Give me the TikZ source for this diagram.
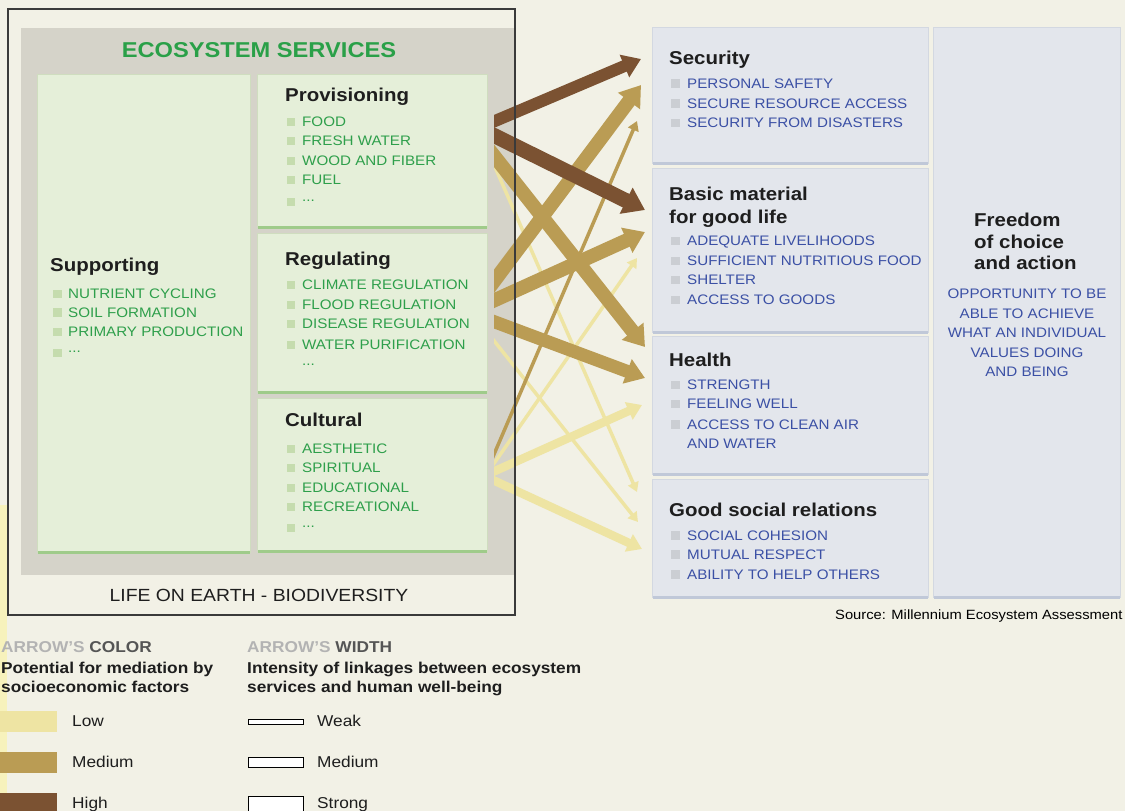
\documentclass[tikz,border=0pt]{standalone}
\usepackage{fontspec}
\setmainfont[FakeStretch=1.1]{Liberation Sans}
\usetikzlibrary{arrows.meta}
\definecolor{bg}{HTML}{F2F1E6}
\definecolor{panel}{HTML}{D5D3C9}
\definecolor{greenbox}{HTML}{E5EFD9}
\definecolor{greenedge}{HTML}{CFDDBF}
\definecolor{greenbar}{HTML}{9FCB8A}
\definecolor{bulgreen}{HTML}{C5DCAE}
\definecolor{itemgreen}{HTML}{2E9F4B}
\definecolor{ecogreen}{HTML}{2AA048}
\definecolor{titleblack}{HTML}{1E1E1E}
\definecolor{bluebox}{HTML}{E3E6EC}
\definecolor{blueedge}{HTML}{D3D8E1}
\definecolor{bluebar}{HTML}{C0C8D8}
\definecolor{bulgray}{HTML}{CBCED3}
\definecolor{itemblue}{HTML}{3B50A5}
\definecolor{lowc}{HTML}{EEE4A3}
\definecolor{medc}{HTML}{BA9C54}
\definecolor{highc}{HTML}{7B5232}
\definecolor{framec}{HTML}{3A3A3A}
\definecolor{lgray}{HTML}{B3B3B3}
\definecolor{dgray}{HTML}{555555}
\definecolor{stripc}{HTML}{F7F2BC}
\begin{document}
\begin{tikzpicture}[x=1pt,y=-1pt,
  ttl/.style={anchor=west,inner sep=0pt,text depth=0pt,font=\bfseries\fontsize{18.6}{21}\selectfont,text=titleblack},
  itm/.style={anchor=west,inner sep=0pt,text depth=0pt,font=\fontsize{13.8}{16}\selectfont,text=itemgreen},
  bitm/.style={itm,text=itemblue},
  gbul/.style={fill=bulgreen,inner sep=0pt,minimum size=8.5pt},
  bbul/.style={fill=bulgray,inner sep=0pt,minimum size=8.5pt},
  gbox/.style={fill=greenbox,draw=greenedge,line width=0.8pt,anchor=north west,inner sep=0pt},
  gbar/.style={draw=greenbar,line width=3pt},
  bbox/.style={fill=bluebox,draw=blueedge,line width=0.8pt,anchor=north west,inner sep=0pt},
  bbar/.style={draw=bluebar,line width=3pt},
  arr/.style={-{Triangle[length=6pt 1,width=6pt 1.45]},shorten <=-16pt},
  lgb/.style={anchor=west,inner sep=0pt,text depth=0pt,font=\bfseries\fontsize{15.7}{18}\selectfont,text=titleblack},
  lgr/.style={anchor=west,inner sep=0pt,text depth=0pt,font=\fontsize{15.7}{18}\selectfont,text=titleblack},
  wbox/.style={draw=black,fill=white,line width=1pt}
]
\useasboundingbox (0,0) rectangle (1125,811);
\fill[bg] (0,0) rectangle (1125,811);
\fill[stripc] (0,505) rectangle (7,811);

% ---------- left panel ----------
\fill[panel] (21,28) rectangle (515,575);
\node[font=\bfseries\fontsize{21.5}{24}\selectfont,text=ecogreen,inner sep=0pt] (eco) at (259,50.5) {ECOSYSTEM SERVICES};

\node[gbox,minimum width=213pt,minimum height=478pt] (sup) at (37,74) {};
\node[gbox,minimum width=230pt,minimum height=153pt] (prov) at (257,74) {};
\node[gbox,minimum width=230pt,minimum height=159pt] (reg) at (257,233) {};
\node[gbox,minimum width=230pt,minimum height=153pt] (cult) at (257,398) {};
\foreach \b in {sup,prov,reg,cult}{
  \draw[gbar] ([xshift=1pt]\b.south west) -- ([xshift=-1pt]\b.south east);
}

\node[ttl] (supt) at (50,265) {Supporting};
\foreach \t/\y [count=\i] in {NUTRIENT CYCLING/294,SOIL FORMATION/312.5,PRIMARY PRODUCTION/332}{
  \node[gbul] (supb\i) at (57.5,\y) {};
  \node[itm] (supi\i) at (68,\y) {\t};
}
\node[gbul] (supb4) at (57.5,353) {};
\node[itm] (supi4) at (68,352) {...};

\node[ttl] (provt) at (285,95) {Provisioning};
\foreach \t/\y [count=\i] in {FOOD/122,FRESH WATER/141,WOOD AND FIBER/161,FUEL/180}{
  \node[gbul] (provb\i) at (291,\y) {};
  \node[itm] (provi\i) at (302,\y) {\t};
}
\node[gbul] (provb5) at (291,202) {};
\node[itm] (provi5) at (302,201) {...};

\node[ttl] (regt) at (285,259) {Regulating};
\foreach \t/\y [count=\i] in {CLIMATE REGULATION/285,FLOOD REGULATION/305,DISEASE REGULATION/324,WATER PURIFICATION/345}{
  \node[gbul] (regb\i) at (291,\y) {};
  \node[itm] (regi\i) at (302,\y) {\t};
}
\node[itm] (regi5) at (302,365) {...};

\node[ttl] (cultt) at (285,420) {Cultural};
\foreach \t/\y [count=\i] in {AESTHETIC/449,SPIRITUAL/468,EDUCATIONAL/488,RECREATIONAL/507}{
  \node[gbul] (cultb\i) at (291,\y) {};
  \node[itm] (culti\i) at (302,\y) {\t};
}
\node[gbul] (cultb5) at (291,528) {};
\node[itm] (culti5) at (302,527) {...};

\node[inner sep=0pt,text depth=0pt,font=\fontsize{17.6}{20}\selectfont,text=titleblack] (life) at (259,595) {LIFE ON EARTH - BIODIVERSITY};

% ---------- right boxes ----------
\node[bbox,minimum width=276pt,minimum height=136pt] (sec) at (652,27) {};
\node[bbox,minimum width=276pt,minimum height=164pt] (bas) at (652,168) {};
\node[bbox,minimum width=276pt,minimum height=138pt] (hea) at (652,336) {};
\node[bbox,minimum width=276pt,minimum height=118pt] (soc) at (652,479) {};
\node[bbox,minimum width=187pt,minimum height=570pt] (fre) at (933,27) {};
\foreach \b in {sec,bas,hea,soc,fre}{
  \draw[bbar] ([xshift=1pt]\b.south west) -- ([xshift=-1pt]\b.south east);
}

\node[ttl] (sect) at (669,57.5) {Security};
\foreach \t/\y [count=\i] in {PERSONAL SAFETY/83.5,SECURE RESOURCE ACCESS/103.5,SECURITY FROM DISASTERS/123}{
  \node[bbul] (secb\i) at (675.5,\y) {};
  \node[bitm] (seci\i) at (687,\y) {\t};
}

\node[ttl] (bast1) at (669,194) {Basic material};
\node[ttl] (bast2) at (669,217) {for good life};
\foreach \t/\y [count=\i] in {ADEQUATE LIVELIHOODS/241,SUFFICIENT NUTRITIOUS FOOD/261,SHELTER/280,ACCESS TO GOODS/300}{
  \node[bbul] (basb\i) at (675.5,\y) {};
  \node[bitm] (basi\i) at (687,\y) {\t};
}

\node[ttl] (heat) at (669,360) {Health};
\foreach \t/\y [count=\i] in {STRENGTH/385,FEELING WELL/404,ACCESS TO CLEAN AIR/424.5}{
  \node[bbul] (heab\i) at (675.5,\y) {};
  \node[bitm] (heai\i) at (687,\y) {\t};
}
\node[bitm] (heai4) at (687,443.5) {AND WATER};

\node[ttl] (soct) at (669,510) {Good social relations};
\foreach \t/\y [count=\i] in {SOCIAL COHESION/535.5,MUTUAL RESPECT/554.5,ABILITY TO HELP OTHERS/574.5}{
  \node[bbul] (socb\i) at (675.5,\y) {};
  \node[bitm] (soci\i) at (687,\y) {\t};
}

\node[ttl] (fret1) at (974,220) {Freedom};
\node[ttl] (fret2) at (974,242) {of choice};
\node[ttl] (fret3) at (974,263) {and action};
\foreach \t/\y [count=\i] in {OPPORTUNITY TO BE/293.5,ABLE TO ACHIEVE/313.5,WHAT AN INDIVIDUAL/333,VALUES DOING/353,AND BEING/372}{
  \node[bitm,anchor=center] (frei\i) at (1027,\y) {\t};
}

\node[anchor=west,inner sep=0pt,text depth=0pt,font=\fontsize{13.4}{16}\selectfont,text=black] (src) at (835,614.5) {Source: Millennium Ecosystem Assessment};

% ---------- arrows ----------
\coordinate (pv1) at (495,121);
\coordinate (pv2) at (495,136);
\coordinate (pv3) at (495,157);
\coordinate (pv4) at (495,167);
\coordinate (rg1) at (495,280);
\coordinate (rg2) at (495,300);
\coordinate (rg3) at (495,322);
\coordinate (rg4) at (495,342);
\coordinate (cu1) at (495,452);
\coordinate (cu2) at (495,462);
\coordinate (cu3) at (495,471);
\coordinate (cu4) at (495,481);
\coordinate (se1) at (641,59);
\coordinate (se2) at (641,85);
\coordinate (se3) at (637,121);
\coordinate (bm1) at (645,210);
\coordinate (bm2) at (645,232);
\coordinate (bm3) at (637,258);
\coordinate (he1) at (645,347);
\coordinate (he2) at (645,378);
\coordinate (he3) at (642,405);
\coordinate (gs1) at (637,492);
\coordinate (gs2) at (638,522);
\coordinate (gs3) at (642,549);

\begin{scope}
\clip (494,0) rectangle (700,811);
\draw[arr,lowc,line width=3.5pt] (pv4) -- (gs1);
\draw[arr,lowc,line width=3.5pt] (rg4) -- (gs2);
\draw[arr,lowc,line width=3.5pt] (cu2) -- (bm3);
\draw[arr,lowc,line width=8.5pt] (cu3) -- (he3);
\draw[arr,lowc,line width=8.5pt] (cu4) -- (gs3);
\draw[arr,medc,line width=3.5pt] (cu1) -- (se3);
\draw[arr,medc,line width=14pt] (rg1) -- (se2);
\draw[arr,medc,line width=14pt] (rg2) -- (bm2);
\draw[arr,medc,line width=13pt] (rg3) -- (he2);
\draw[arr,medc,line width=14pt] (pv3) -- (he1);
\draw[arr,highc,line width=12pt] (pv1) -- (se1);
\draw[arr,highc,line width=15pt] (pv2) -- (bm1);
\end{scope}

% outer frame
\draw[framec,line width=1.5pt] (8,9) rectangle (515,615);

% ---------- legend ----------
\node[lgb] (lc1) at (1,647) {\textcolor{lgray}{ARROW’S} \textcolor{dgray}{COLOR}};
\node[lgb] (lc2) at (1,668) {Potential for mediation by};
\node[lgb] (lc3) at (1,687) {socioeconomic factors};
\fill[lowc] (0,711) rectangle (57,732);
\fill[medc] (0,752) rectangle (57,773);
\fill[highc] (0,793) rectangle (57,814);
\node[lgr] (lowl) at (72,721) {Low};
\node[lgr] (medl) at (72,762) {Medium};
\node[lgr] (higl) at (72,803) {High};

\node[lgb] (lw1) at (247,647) {\textcolor{lgray}{ARROW’S} \textcolor{dgray}{WIDTH}};
\node[lgb] (lw2) at (247,668) {Intensity of linkages between ecosystem};
\node[lgb] (lw3) at (247,687) {services and human well-being};
\draw[wbox] (248,719.5) rectangle (303,724.5);
\draw[wbox] (248,757) rectangle (303,767);
\draw[wbox] (248,796) rectangle (303,822);
\node[lgr] (weakl) at (317,721) {Weak};
\node[lgr] (mewl) at (317,762) {Medium};
\node[lgr] (strl) at (317,803) {Strong};
\end{tikzpicture}
\end{document}
